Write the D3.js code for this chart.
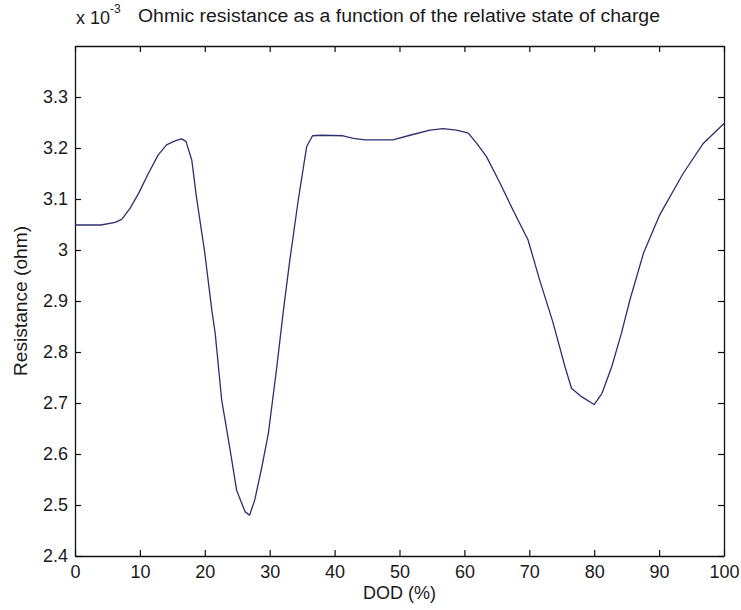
<!DOCTYPE html>
<html>
<head>
<meta charset="utf-8">
<script src="https://cdn.jsdelivr.net/npm/d3@7"></script>
<style>
  html, body { margin: 0; padding: 0; background: #fff; }
  svg { display: block; }
  text { font-family: "Liberation Sans", Arial, sans-serif; fill: #1a1a1a; }
</style>
</head>
<body>
<svg id="chart" width="741" height="610"></svg>
<script>
// Depth of discharge (%)
const dod = [0, 4, 6.2, 7.2, 8.5, 9.8, 11.3, 12.8, 14.1, 15.4, 16.4, 17.1, 18.0, 18.7, 20.0,
  21.1, 21.6, 22.6, 23.9, 24.9, 26.2, 26.9, 27.7, 28.8, 29.8, 31.1, 32.1, 33.1, 34.4, 35.7,
  36.6, 38.0, 41.3, 42.9, 44.7, 49.0, 51.6, 54.7, 56.7, 58.8, 60.6, 61.9, 63.4, 65.5, 67.5,
  69.8, 71.6, 73.6, 75.5, 76.5, 78.1, 80.0, 81.2, 82.7, 84.2, 85.5, 87.6, 90.1, 93.7, 96.8, 100];

// Ohmic resistance, in units of 1e-3 ohm
const resistance = [3.049, 3.049, 3.054, 3.060, 3.082, 3.111, 3.150, 3.186, 3.206, 3.214,
  3.218, 3.213, 3.176, 3.105, 2.994, 2.880, 2.837, 2.706, 2.608, 2.529, 2.487, 2.480, 2.510,
  2.575, 2.641, 2.771, 2.880, 2.980, 3.098, 3.203, 3.224, 3.225, 3.224, 3.219, 3.216, 3.216,
  3.225, 3.235, 3.238, 3.235, 3.229, 3.209, 3.183, 3.131, 3.078, 3.020, 2.941, 2.860, 2.771,
  2.729, 2.712, 2.697, 2.719, 2.771, 2.837, 2.902, 2.994, 3.069, 3.150, 3.209, 3.248];

const xTicks = [0, 10, 20, 30, 40, 50, 60, 70, 80, 90, 100];
const yTicks = [2.4, 2.5, 2.6, 2.7, 2.8, 2.9, 3.0, 3.1, 3.2, 3.3];

const titleText = "Ohmic resistance as a function of the relative state of charge";
const xLabel = "DOD (%)";
const yLabel = "Resistance (ohm)";

const svg = d3.select("#chart");
const margin = { left: 75, right: 17, top: 46, bottom: 54 };
const W = 741, H = 610;
const x0 = margin.left, x1 = W - margin.right;
const y0 = H - margin.bottom, y1 = margin.top;

const x = d3.scaleLinear().domain([0, 100]).range([x0, x1]);
const y = d3.scaleLinear().domain([2.4, 3.4]).range([y0, y1]);

const tickLen = 6;
const fontSize = 18;
const fmt = d => String(+d.toFixed(1));

// bottom axis (labels) and top mirror (ticks only)
const gx = svg.append("g").attr("transform", `translate(0,${y0})`)
  .call(d3.axisBottom(x).tickValues(xTicks).tickFormat(fmt).tickSizeInner(-tickLen).tickSizeOuter(0).tickPadding(9));
const gxt = svg.append("g").attr("transform", `translate(0,${y1})`)
  .call(d3.axisTop(x).tickValues(xTicks).tickFormat("").tickSizeInner(-tickLen).tickSizeOuter(0));
// left axis (labels) and right mirror (ticks only)
const gy = svg.append("g").attr("transform", `translate(${x0},0)`)
  .call(d3.axisLeft(y).tickValues(yTicks).tickFormat(fmt).tickSizeInner(-tickLen).tickSizeOuter(0).tickPadding(7));
const gyr = svg.append("g").attr("transform", `translate(${x1},0)`)
  .call(d3.axisRight(y).tickValues(yTicks).tickFormat("").tickSizeInner(-tickLen).tickSizeOuter(0));

[gx, gxt, gy, gyr].forEach(g => {
  g.select(".domain").attr("stroke", "#111").attr("stroke-width", 1.3);
  g.selectAll(".tick line").attr("stroke", "#111").attr("stroke-width", 1.2);
  g.selectAll(".tick text").attr("font-size", fontSize).attr("fill", "#1a1a1a")
    .attr("font-family", "'Liberation Sans', Arial, sans-serif");
});

// the curve
const line = d3.line().x((d, i) => x(dod[i])).y(d => y(d));
svg.append("path")
  .datum(resistance)
  .attr("fill", "none")
  .attr("stroke", "#2e2e72")
  .attr("stroke-width", 1.3)
  .attr("stroke-linejoin", "round")
  .attr("d", line);

// axis labels
svg.append("text")
  .attr("x", (x0 + x1) / 2).attr("y", 599)
  .attr("text-anchor", "middle").attr("font-size", fontSize)
  .text(xLabel);

svg.append("text")
  .attr("transform", `translate(27,${(y0 + y1) / 2}) rotate(-90)`)
  .attr("text-anchor", "middle").attr("font-size", fontSize)
  .attr("textLength", 150).attr("lengthAdjust", "spacingAndGlyphs")
  .text(yLabel);

// exponent marker
const expo = svg.append("text").attr("x", 76).attr("y", 24).attr("font-size", fontSize);
expo.append("tspan").text("x 10");
expo.append("tspan").attr("dy", -11).attr("font-size", 12).text("-3");

// title
svg.append("text")
  .attr("x", 138).attr("y", 22)
  .attr("font-size", fontSize)
  .attr("textLength", 522).attr("lengthAdjust", "spacingAndGlyphs")
  .text(titleText);
</script>
</body>
</html>
